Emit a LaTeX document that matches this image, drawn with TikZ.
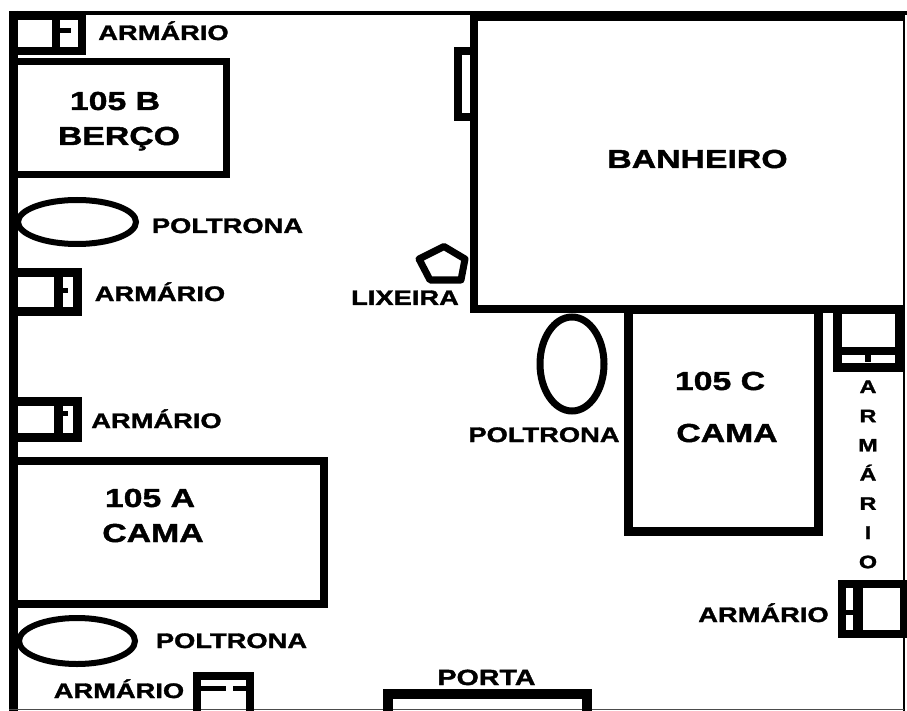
\documentclass[tikz,border=0pt]{standalone}
\usepackage{fontspec}
\newfontfamily\planfont{Liberation Sans}[FakeStretch=1.3,
  BoldFeatures={FakeStretch=1.3,FakeBold=1.6}]
\usetikzlibrary{shapes.geometric}

\begin{document}
\begin{tikzpicture}[x=1pt,y=-1pt,
    lbl/.style={font=\planfont\bfseries\fontsize{21}{25}\selectfont,anchor=base,inner sep=0pt},
    biglbl/.style={lbl,font=\planfont\bfseries\fontsize{26}{30}\selectfont}]
          \useasboundingbox (0,0) rectangle (907,711);
          % walls
          \draw[line width=4pt] (9,13) -- (907,13);
          \draw[line width=9pt] (13.5,11) -- (13.5,711);
          \draw[line width=2pt] (904,12) -- (904,711);
          \draw[line width=1.5pt,black!70] (9,709.5) -- (904,709.5);
          % banheiro
          \draw[line width=8pt] (904,17) -- (474,17) -- (474,309) -- (904,309);
          \draw[line width=8pt] (470,51) -- (457.5,51) -- (457.5,117) -- (470,117);
          \node[biglbl] (banheiro) at (697.5,168) {BANHEIRO};
          % camas
          \draw[line width=7pt] (13,61.5) rectangle (226,174.5);
          \node[biglbl] (bercoN) at (115,110) {105 B};
          \node[biglbl] (berco) at (119,145) {BERÇO};
          \draw[line width=8pt] (13,461) rectangle (324,604);
          \node[biglbl] (camaAN) at (150,507) {105 A};
          \node[biglbl] (camaA) at (153,542) {CAMA};
          \draw[line width=9pt] (628,309) rectangle (818,531);
          \node[biglbl] (camaCN) at (720,390) {105 C};
          \node[biglbl] (camaC) at (727,442) {CAMA};
          % poltronas
          \draw[line width=6pt] (77,222) ellipse [x radius=59, y radius=22];
          \node[lbl] (poltB) at (227.5,233) {POLTRONA};
          \draw[line width=6pt] (77,641) ellipse [x radius=58, y radius=23];
          \node[lbl] (poltA) at (231.5,648) {POLTRONA};
          \draw[line width=7pt] (572,364) ellipse [x radius=32, y radius=47];
          \node[lbl] (poltC) at (544,442) {POLTRONA};
          % lixeira
          \draw[line width=7pt,line join=round] (444,246.5) -- (465,259) -- (461,280)
            -- (430,280) -- (419,259) -- cycle;
          \node[lbl] (lixeira) at (405,305) {LIXEIRA};
          % armarios
          \draw[line width=8pt] (13,16) rectangle (82,51.5);
          \draw[line width=8pt] (56,16) -- (56,51.5);
          \draw[line width=5pt] (56,30.5) -- (71,30.5);
          \node[lbl] (arm1) at (163.5,40) {ARMÁRIO};
          \draw[line width=9pt] (13,272.5) rectangle (77,311);
          \draw[line width=9pt] (58,272.5) -- (58,311);
          \draw[line width=5pt] (58,290) -- (68,290);
          \node[lbl] (arm2) at (160,301) {ARMÁRIO};
          \draw[line width=9pt] (13,401) rectangle (77,437.5);
          \draw[line width=9pt] (58,401) -- (58,437.5);
          \draw[line width=5pt] (58,413) -- (68,413);
          \node[lbl] (arm3) at (156.5,428) {ARMÁRIO};
          \draw[line width=8pt] (197,711) -- (197,676) -- (250,676) -- (250,711);
          \draw[line width=5pt] (197,688) -- (226,688);
          \draw[line width=5pt] (233,688) -- (250,688);
          \node[lbl] (arm4) at (119,698) {ARMÁRIO};
          \draw[line width=9pt] (837,309) rectangle (899,367.5);
          \draw[line width=8pt] (837,351) -- (899,351);
          \draw[line width=6pt] (868,351) -- (868,362);
          \foreach \ch [count=\i from 0] in {A,R,M,Á,R,I,O}
            \node[lbl,font=\planfont\bfseries\fontsize{18}{20}\selectfont] (armv\i) at (868,393+29.2*\i) {\ch};
          \draw[line width=8pt] (842,584) rectangle (904,634);
          \draw[line width=10pt] (858,584) -- (858,634);
          \draw[line width=5pt] (842,612) -- (858,612);
          \node[lbl] (arm5) at (763.5,622) {ARMÁRIO};
          % porta
          \draw[line width=10pt] (388,711) -- (388,694) -- (587,694) -- (587,711);
          \node[lbl,font=\planfont\bfseries\fontsize{22}{26}\selectfont] (porta) at (486.5,685) {PORTA};
        \end{tikzpicture}
\end{document}
